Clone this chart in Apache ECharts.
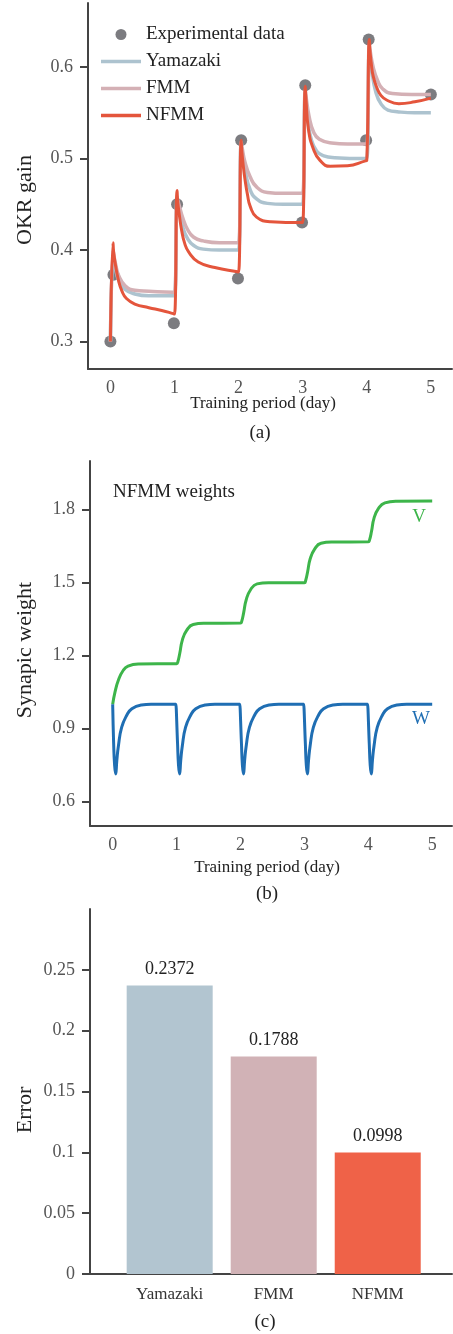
<!DOCTYPE html>
<html>
<head>
<meta charset="utf-8">
<script src="https://cdn.jsdelivr.net/npm/echarts@6/dist/echarts.min.js"></script>
<style>
  html, body { margin: 0; padding: 0; background: #fff; }
  #chart { width: 453px; height: 1334px; }
</style>
</head>
<body>
<div id="chart"></div>
<script>
// ---- panel (a): OKR gain ----
const dayTicks = [0, 1, 2, 3, 4, 5];
const gainTicks = [0.3, 0.4, 0.5, 0.6];
const experimental = [
  [0, 0.30], [0.047, 0.373], [0.99, 0.32], [1.04, 0.45], [1.99, 0.369], [2.04, 0.52],
  [2.99, 0.43], [3.04, 0.58], [3.99, 0.52], [4.03, 0.63], [5.0, 0.57]
];
const yamazaki = [
  [0, 0.30], [0.04, 0.395], [0.05, 0.39], [0.08, 0.379], [0.13, 0.367], [0.23, 0.357], [0.38, 0.352], [0.6, 0.350], [0.97, 0.350], [1.0, 0.350],
  [1.04, 0.452], [1.05, 0.449], [1.08, 0.44], [1.13, 0.425], [1.2, 0.413], [1.3, 0.405], [1.45, 0.401], [1.7, 0.400], [1.97, 0.400], [2.0, 0.400],
  [2.04, 0.515], [2.05, 0.51], [2.1, 0.488], [2.18, 0.466], [2.28, 0.456], [2.45, 0.451], [2.7, 0.450], [2.97, 0.450], [3.0, 0.450],
  [3.04, 0.572], [3.05, 0.565], [3.08, 0.543], [3.13, 0.522], [3.22, 0.508], [3.33, 0.503], [3.5, 0.501], [3.97, 0.500], [4.0, 0.500],
  [4.04, 0.62], [4.05, 0.613], [4.08, 0.595], [4.14, 0.573], [4.22, 0.56], [4.33, 0.553], [4.5, 0.551], [4.75, 0.550], [5.0, 0.550]
];
const fmm = [
  [0, 0.30], [0.04, 0.40], [0.05, 0.396], [0.08, 0.385], [0.13, 0.372], [0.23, 0.361], [0.38, 0.356], [0.6, 0.355], [0.97, 0.354], [1.0, 0.354],
  [1.04, 0.458], [1.05, 0.455], [1.08, 0.447], [1.13, 0.435], [1.2, 0.423], [1.3, 0.414], [1.45, 0.410], [1.7, 0.408], [1.97, 0.408], [2.0, 0.408],
  [2.04, 0.518], [2.05, 0.514], [2.1, 0.496], [2.18, 0.48], [2.28, 0.469], [2.45, 0.463], [2.7, 0.462], [2.97, 0.462], [3.0, 0.462],
  [3.04, 0.575], [3.05, 0.569], [3.1, 0.546], [3.17, 0.529], [3.26, 0.521], [3.45, 0.517], [3.7, 0.516], [3.97, 0.516], [4.0, 0.516],
  [4.04, 0.625], [4.05, 0.619], [4.1, 0.60], [4.17, 0.585], [4.25, 0.576], [4.4, 0.571], [4.7, 0.570], [5.0, 0.570]
];
const nfmm = [
  [0, 0.30], [0.04, 0.408], [0.05, 0.398], [0.08, 0.383], [0.125, 0.367], [0.18, 0.355], [0.25, 0.347], [0.38, 0.341], [0.6, 0.337], [0.8, 0.334], [0.98, 0.3305], [1.0, 0.330],
  [1.04, 0.465], [1.05, 0.453], [1.08, 0.436], [1.11, 0.422], [1.16, 0.407], [1.22, 0.398], [1.37, 0.387], [1.63, 0.381], [1.98, 0.3762], [2.0, 0.376],
  [2.04, 0.52], [2.05, 0.509], [2.07, 0.494], [2.1, 0.477], [2.14, 0.46], [2.18, 0.448], [2.28, 0.436], [2.5, 0.431], [2.98, 0.430], [3.0, 0.430],
  [3.04, 0.579], [3.05, 0.567], [3.09, 0.532], [3.17, 0.51], [3.27, 0.498], [3.43, 0.4915], [3.7, 0.492], [3.98, 0.4975], [4.0, 0.498],
  [4.04, 0.63], [4.05, 0.618], [4.07, 0.604], [4.1, 0.59], [4.16, 0.577], [4.22, 0.569], [4.31, 0.564], [4.5, 0.560], [4.75, 0.562], [5.0, 0.566]
];

// ---- panel (b): NFMM weights ----
const weightTicks = [0.6, 0.9, 1.2, 1.5, 1.8];
const weightV = [
  [0, 1.0], [0.036, 1.05], [0.09, 1.10], [0.166, 1.14], [0.24, 1.157], [0.4, 1.166], [1.0, 1.167],
  [1.02, 1.175], [1.05, 1.21], [1.09, 1.264], [1.16, 1.305], [1.26, 1.328], [1.44, 1.333], [2.0, 1.334],
  [2.02, 1.342], [2.05, 1.377], [2.09, 1.43], [2.16, 1.472], [2.26, 1.495], [2.44, 1.50], [3.0, 1.50],
  [3.02, 1.509], [3.05, 1.544], [3.09, 1.597], [3.16, 1.638], [3.26, 1.662], [3.44, 1.667], [4.0, 1.668],
  [4.02, 1.676], [4.05, 1.71], [4.09, 1.765], [4.16, 1.805], [4.26, 1.828], [4.44, 1.835], [5.0, 1.836]
];
const weightW = [
  [0, 1.0], [0.015, 0.84], [0.03, 0.75], [0.047, 0.714], [0.065, 0.77], [0.09, 0.83], [0.14, 0.905], [0.22, 0.955], [0.3, 0.982], [0.45, 0.997], [0.6, 1.0], [0.99, 1.0],
  [1.0, 1.0], [1.015, 0.84], [1.03, 0.75], [1.047, 0.714], [1.065, 0.77], [1.09, 0.83], [1.14, 0.905], [1.22, 0.955], [1.3, 0.982], [1.45, 0.997], [1.6, 1.0], [1.99, 1.0],
  [2.0, 1.0], [2.015, 0.84], [2.03, 0.75], [2.047, 0.714], [2.065, 0.77], [2.09, 0.83], [2.14, 0.905], [2.22, 0.955], [2.3, 0.982], [2.45, 0.997], [2.6, 1.0], [2.99, 1.0],
  [3.0, 1.0], [3.015, 0.84], [3.03, 0.75], [3.047, 0.714], [3.065, 0.77], [3.09, 0.83], [3.14, 0.905], [3.22, 0.955], [3.3, 0.982], [3.45, 0.997], [3.6, 1.0], [3.99, 1.0],
  [4.0, 1.0], [4.015, 0.84], [4.03, 0.75], [4.047, 0.714], [4.065, 0.77], [4.09, 0.83], [4.14, 0.905], [4.22, 0.955], [4.3, 0.982], [4.45, 0.997], [4.6, 1.0], [5.0, 1.0]
];

// ---- panel (c): errors ----
const models = ['Yamazaki', 'FMM', 'NFMM'];
const errors = [0.2372, 0.1788, 0.0998];
const errorTicks = [0, 0.05, 0.1, 0.15, 0.2, 0.25];

const serif = 'Liberation Serif';
const axisColor = '#444';
const colors = {
  data: '#7c7c80', yamazaki: '#adc3cf', fmm: '#d4b0b5', nfmm: '#e4553c',
  v: '#3db54a', w: '#1f6eb3'
};
const barColors = ['#b2c5d0', '#d1b2b6', '#ef6248'];
const lineIcon = 'path://M0,0 L40,0 L40,3.5 L0,3.5 Z';

function xAxisFor(gridIndex, min, max, ticks, fmt) {
  return {
    type: 'value', gridIndex: gridIndex, min: min, max: max,
    axisLine: { show: true, onZero: false, lineStyle: { color: axisColor, width: 2 } },
    axisTick: { show: false },
    splitLine: { show: false },
    axisLabel: {
      customValues: ticks, margin: 10, color: '#555',
      fontFamily: serif, fontSize: 18,
      formatter: fmt
    }
  };
}
function yAxisFor(gridIndex, min, max, ticks) {
  return {
    type: 'value', gridIndex: gridIndex, min: min, max: max,
    axisLine: { show: true, onZero: false, lineStyle: { color: axisColor, width: 2 } },
    axisTick: { show: true, customValues: ticks, length: 8, lineStyle: { color: axisColor, width: 2 } },
    splitLine: { show: false },
    axisLabel: { customValues: ticks, margin: 15, color: '#555', fontFamily: serif, fontSize: 18 }
  };
}
function label(text, x, y, size, color, rotate, align) {
  return {
    type: 'text', x: x, y: y, rotation: rotate ? Math.PI / 2 : 0,
    style: {
      text: text, fill: color, font: size + 'px "' + serif + '"',
      align: align || 'center', verticalAlign: 'middle'
    }
  };
}
function curve(name, gridIndex, data, color, width) {
  return {
    name: name, type: 'line', xAxisIndex: gridIndex, yAxisIndex: gridIndex,
    data: data, symbol: 'none', showSymbol: false, smooth: 0.5,
    lineStyle: { color: color, width: width }, itemStyle: { color: color }
  };
}

var myChart = echarts.init(document.getElementById('chart'));
var option = {
  animation: false,
  backgroundColor: '#fff',
  grid: [
    { left: 88, top: 3, width: 364, height: 366 },
    { left: 90, top: 461, width: 362, height: 365 },
    { left: 90, top: 909, width: 362, height: 365 }
  ],
  xAxis: [
    xAxisFor(0, -0.35, 5.33, dayTicks),
    xAxisFor(1, -0.355, 5.31, dayTicks),
    xAxisFor(2, -0.766, 2.714, [0, 1, 2], function (v) { return models[Math.round(v)]; })
  ],
  yAxis: [
    yAxisFor(0, 0.27, 0.67, gainTicks),
    yAxisFor(1, 0.5, 2.0, weightTicks),
    yAxisFor(2, 0, 0.3, errorTicks)
  ],
  legend: {
    orient: 'vertical', left: 101, top: 25, padding: 0,
    itemWidth: 40, itemHeight: 11, itemGap: 8,
    textStyle: { fontFamily: serif, fontSize: 19, color: '#222' },
    data: [
      { name: 'Experimental data', icon: 'circle' },
      { name: 'Yamazaki', icon: lineIcon },
      { name: 'FMM', icon: lineIcon },
      { name: 'NFMM', icon: lineIcon }
    ]
  },
  graphic: [
    label('OKR gain', 25, 200, 22, '#222', true),
    label('Training period (day)', 263, 404, 17, '#222'),
    label('(a)', 260, 433, 19, '#222'),
    label('NFMM weights', 113, 492, 19, '#222', false, 'left'),
    label('V', 419, 517, 19, colors.v),
    label('W', 421, 719, 19, colors.w),
    label('Synapic weight', 25, 650, 22, '#222', true),
    label('Training period (day)', 267, 868, 17, '#222'),
    label('(b)', 267, 894, 19, '#222'),
    label('Error', 25, 1110, 22, '#222', true),
    label('(c)', 265, 1322, 19, '#222')
  ],
  series: [
    curve('Yamazaki', 0, yamazaki, colors.yamazaki, 3.5),
    curve('FMM', 0, fmm, colors.fmm, 3.5),
    curve('NFMM', 0, nfmm, colors.nfmm, 3),
    {
      name: 'Experimental data', type: 'scatter', xAxisIndex: 0, yAxisIndex: 0,
      data: experimental, symbolSize: 12, itemStyle: { color: colors.data, opacity: 1 }
    },
    curve('V', 1, weightV, colors.v, 3),
    curve('W', 1, weightW, colors.w, 3),
    {
      name: 'Error', type: 'bar', xAxisIndex: 2, yAxisIndex: 2,
      barWidth: 86,
      data: errors.map(function (e, i) {
        return { value: [i, e], itemStyle: { color: barColors[i] } };
      }),
      label: {
        show: true, position: 'top', distance: 7,
        fontFamily: serif, fontSize: 18, color: '#222',
        formatter: function (p) { return errors[p.dataIndex].toFixed(4); }
      }
    }
  ]
};
option.xAxis[2].axisLabel.margin = 12;
option.xAxis[2].axisLabel.fontSize = 17;
option.xAxis[2].axisLabel.color = '#333';
myChart.setOption(option);
window.addEventListener('resize', () => {
  myChart.resize();
});
</script>
</body>
</html>
